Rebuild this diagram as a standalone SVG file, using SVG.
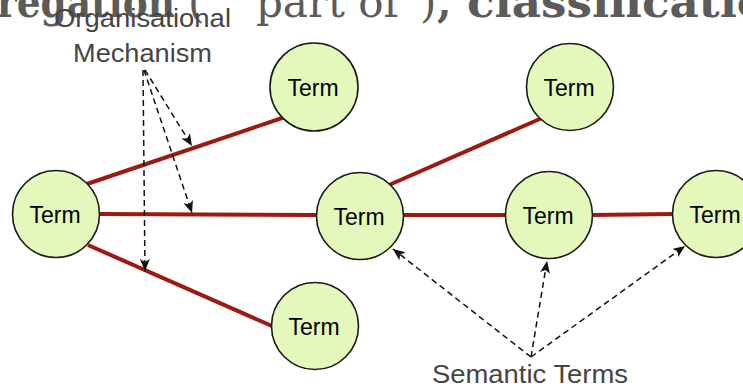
<svg xmlns="http://www.w3.org/2000/svg" width="743" height="387" viewBox="0 0 743 387">
  <style>
    .title { font-family: "DejaVu Serif", "Liberation Serif", serif; font-size: 42px; fill: #5b5b5b; }
    .title-b { font-weight: bold; }
    .label { font-family: "Liberation Sans", Arial, sans-serif; font-size: 25px; fill: #454545; }
    .term circle { fill: #e4f8bc; stroke: #1a1a1a; stroke-width: 1.6; }
    .term text { font-family: "Liberation Sans", Arial, sans-serif; font-size: 23px; fill: #000; text-anchor: middle; }
    .link { stroke: #9c1a12; stroke-width: 4; fill: none; stroke-linecap: butt; }
    .pointer { stroke: #111; stroke-width: 1.5; stroke-dasharray: 6 4; fill: none; marker-end: url(#head); }
  </style>
  <defs>
    <marker id="head" viewBox="0 0 12 10" refX="12" refY="5" markerWidth="12" markerHeight="10" markerUnits="userSpaceOnUse" orient="auto">
      <path d="M0,0 L12,5 L0,10 L3,5 Z" fill="#111"/>
    </marker>
  </defs>

  <rect width="743" height="387" fill="#ffffff"/>

  <!-- heading, clipped by the top edge -->
  <g id="heading">
    <text class="title title-b" x="-3" y="17" textLength="178" lengthAdjust="spacingAndGlyphs">regation</text>
    <text class="title" x="188" y="17">(</text>
    <text class="title" x="228" y="17" font-size="30">“</text>
    <text class="title" x="256" y="17" textLength="143" lengthAdjust="spacingAndGlyphs">part of</text>
    <text class="title" x="400" y="17" font-size="30">”</text>
    <text class="title" x="420" y="17">)</text>
    <text class="title title-b" x="437" y="17">,</text>
    <text class="title title-b" x="467" y="17" textLength="300" lengthAdjust="spacingAndGlyphs">classificatio</text>
  </g>

  <!-- connectors -->
  <g id="connectors">
    <line class="link" x1="87" y1="184" x2="285" y2="117"/>
    <line class="link" x1="100" y1="214" x2="316" y2="215"/>
    <line class="link" x1="88" y1="245" x2="272" y2="326"/>
    <line class="link" x1="389" y1="185" x2="542" y2="118"/>
    <line class="link" x1="403" y1="215" x2="505" y2="215"/>
    <line class="link" x1="592" y1="215" x2="673" y2="214"/>

    <line class="pointer" x1="145" y1="70" x2="192" y2="146"/>
    <line class="pointer" x1="144" y1="70" x2="192" y2="213"/>
    <line class="pointer" x1="143" y1="70" x2="145" y2="271"/>

    <line class="pointer" x1="531" y1="357" x2="393" y2="249"/>
    <line class="pointer" x1="531" y1="357" x2="547" y2="261"/>
    <line class="pointer" x1="531" y1="357" x2="685" y2="246"/>
  </g>

  <!-- nodes -->
  <g id="term-left" class="term">
    <circle cx="56" cy="214" r="43.5"/>
    <text x="55" y="223">Term</text>
  </g>
  <g id="term-top-a" class="term">
    <circle cx="314" cy="87" r="44"/>
    <text x="313" y="96">Term</text>
  </g>
  <g id="term-bottom" class="term">
    <circle cx="315" cy="326" r="43.5"/>
    <text x="314" y="335">Term</text>
  </g>
  <g id="term-mid" class="term">
    <circle cx="360" cy="216" r="43.5"/>
    <text x="359" y="225">Term</text>
  </g>
  <g id="term-top-b" class="term">
    <circle cx="570" cy="87" r="43.5"/>
    <text x="569" y="96">Term</text>
  </g>
  <g id="term-right" class="term">
    <circle cx="549" cy="215" r="43.5"/>
    <text x="548" y="224">Term</text>
  </g>
  <g id="term-far" class="term">
    <circle cx="716" cy="214" r="43.5"/>
    <text x="715" y="223">Term</text>
  </g>

  <!-- annotations -->
  <g id="label-organisational">
    <text class="label" x="54" y="27" textLength="177" lengthAdjust="spacingAndGlyphs">Organisational</text>
    <text class="label" x="73" y="62" textLength="139" lengthAdjust="spacingAndGlyphs">Mechanism</text>
  </g>
  <g id="label-semantic">
    <text class="label" x="432" y="383" textLength="196" lengthAdjust="spacingAndGlyphs">Semantic Terms</text>
  </g>
</svg>
